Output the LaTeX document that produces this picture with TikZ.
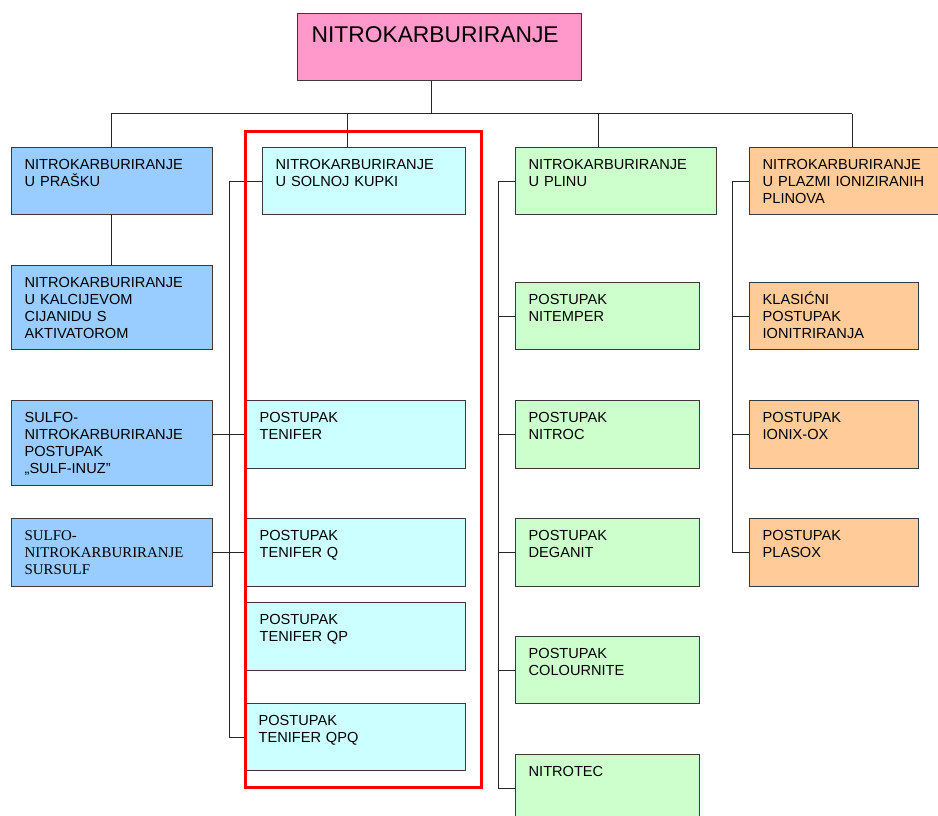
\documentclass[tikz,border=0pt]{standalone}
\usepackage{fontspec}
\setmainfont{Liberation Sans}
\newfontfamily\serifcell{Liberation Serif}
\usetikzlibrary{calc}

% Colours of the branches
\definecolor{rootpink}{HTML}{FF99CC}
\definecolor{powderblue}{HTML}{99CCFF}
\definecolor{saltcyan}{HTML}{CCFFFF}
\definecolor{gasgreen}{HTML}{CCFFCC}
\definecolor{plasmaorange}{HTML}{FFCC99}
\definecolor{boxline}{HTML}{3A3A3A}

\tikzset{
  cell/.style={draw=boxline, line width=1.3pt, anchor=north west, inner xsep=13pt,
    inner ysep=0pt, align=left, text height=22pt, text depth=45pt,
    font=\fontsize{14.6}{17}\selectfont},
  wire/.style={draw=black!85, line width=1pt},
  redframe/.style={draw=red, line width=3pt}
}

\begin{document}
\begin{tikzpicture}[x=1pt, y=-1pt]

% Define frame of the picture
\clip (0,0) rectangle (938,816);
\fill[white] (0,0) rectangle (938,816);

% Define root
\node[cell, fill=rootpink, inner xsep=14pt, text width=256pt, text height=29pt,
  text depth=38pt, font=\fontsize{22.8}{26}\selectfont] (root) at (297,13) {NITROKARBURIRANJE};

% Define drop points on the bus
\coordinate (hub) at (431,114);
\coordinate (d1) at (111,114);
\coordinate (d2) at (347,114);
\coordinate (d3) at (598,114);
\coordinate (d4) at (852,114);

% Define spines
\coordinate (s2) at (229,0);
\coordinate (s3) at (498,0);
\coordinate (s4) at (732,0);

% Column 1: powder
\node[cell, fill=powderblue, text width=175pt] (pras) at (11,147) {NITROKARBURIRANJE\\U PRAŠKU};
\node[cell, fill=powderblue, text width=175pt, text depth=62pt] (kalc) at (11,265) {NITROKARBURIRANJE\\U KALCIJEVOM\\CIJANIDU S\\AKTIVATOROM};
\node[cell, fill=powderblue, text width=175pt, text depth=63pt] (sulfinuz) at (11,400) {SULFO-\\NITROKARBURIRANJE\\POSTUPAK\\„SULF-INUZ"};
\node[cell, fill=powderblue, text width=175pt, text depth=46pt,
  font=\serifcell\fontsize{14.9}{17}\selectfont] (sursulf) at (11,518) {SULFO-\\NITROKARBURIRANJE\\SURSULF};

% Column 2: salt bath
\node[cell, fill=saltcyan, text width=177pt] (solna) at (262,147) {NITROKARBURIRANJE\\U SOLNOJ KUPKI};
\node[cell, fill=saltcyan, text width=193pt, text depth=46pt] (tenifer) at (246,400) {POSTUPAK\\TENIFER};
\node[cell, fill=saltcyan, text width=193pt, text depth=46pt] (teniferq) at (246,518) {POSTUPAK\\TENIFER Q};
\node[cell, fill=saltcyan, text width=193pt, text depth=46pt] (teniferqp) at (246,602) {POSTUPAK\\TENIFER QP};
\node[cell, fill=saltcyan, text width=194pt] (teniferqpq) at (245,703) {POSTUPAK\\TENIFER QPQ};

% Column 3: gas
\node[cell, fill=gasgreen, text width=175pt] (plin) at (515,147) {NITROKARBURIRANJE\\U PLINU};
\node[cell, fill=gasgreen, text width=158pt] (nitemper) at (515,282) {POSTUPAK\\NITEMPER};
\node[cell, fill=gasgreen, text width=158pt, text depth=46pt] (nitroc) at (515,400) {POSTUPAK\\NITROC};
\node[cell, fill=gasgreen, text width=158pt, text depth=46pt] (deganit) at (515,518) {POSTUPAK\\DEGANIT};
\node[cell, fill=gasgreen, text width=158pt] (colour) at (515,636) {POSTUPAK\\COLOURNITE};
\node[cell, fill=gasgreen, text width=158pt, text depth=46pt] (nitrotec) at (515,754) {NITROTEC};

% Column 4: plasma
\node[cell, fill=plasmaorange, text width=175pt] (plazma) at (749,147) {NITROKARBURIRANJE\\U PLAZMI IONIZIRANIH\\PLINOVA};
\node[cell, fill=plasmaorange, text width=143pt] (klasicni) at (749,282) {KLASIĆNI\\POSTUPAK\\IONITRIRANJA};
\node[cell, fill=plasmaorange, text width=143pt, text depth=46pt] (ionix) at (749,400) {POSTUPAK\\IONIX-OX};
\node[cell, fill=plasmaorange, text width=143pt, text depth=46pt] (plasox) at (749,518) {POSTUPAK\\PLASOX};

% Draw the bus
\draw[wire] (root.south -| hub) -- (hub);
\draw[wire] (d1) -- (d4);
\draw[wire] (d1) -- (pras.north -| d1);
\draw[wire] (d2) -- (solna.north -| d2);
\draw[wire] (d3) -- (plin.north -| d3);
\draw[wire] (d4) -- (plazma.north -| d4);

% Draw column 1 stem
\draw[wire] (pras.south -| d1) -- (kalc.north -| d1);

% Draw column 2 spine
\draw[wire] (solna.west) -- (solna.west -| s2) -- (teniferqpq.west -| s2) -- (teniferqpq.west);
\draw[wire] (sulfinuz.east |- tenifer.west) -- (tenifer.west);
\draw[wire] (sursulf.east |- teniferq.west) -- (teniferq.west);

% Draw column 3 spine
\draw[wire] (plin.west) -- (plin.west -| s3) -- (nitrotec.west -| s3) -- (nitrotec.west);
\foreach \n in {nitemper, nitroc, deganit, colour}
  \draw[wire] (\n.west -| s3) -- (\n.west);

% Draw column 4 spine
\draw[wire] (plazma.west) -- (plazma.west -| s4) -- (plasox.west -| s4) -- (plasox.west);
\foreach \n in {klasicni, ionix}
  \draw[wire] (\n.west -| s4) -- (\n.west);

% Draw the red frame round the salt bath column
\draw[redframe] (245.7,131.3) rectangle (481.5,787.3);

\end{tikzpicture}
\end{document}
